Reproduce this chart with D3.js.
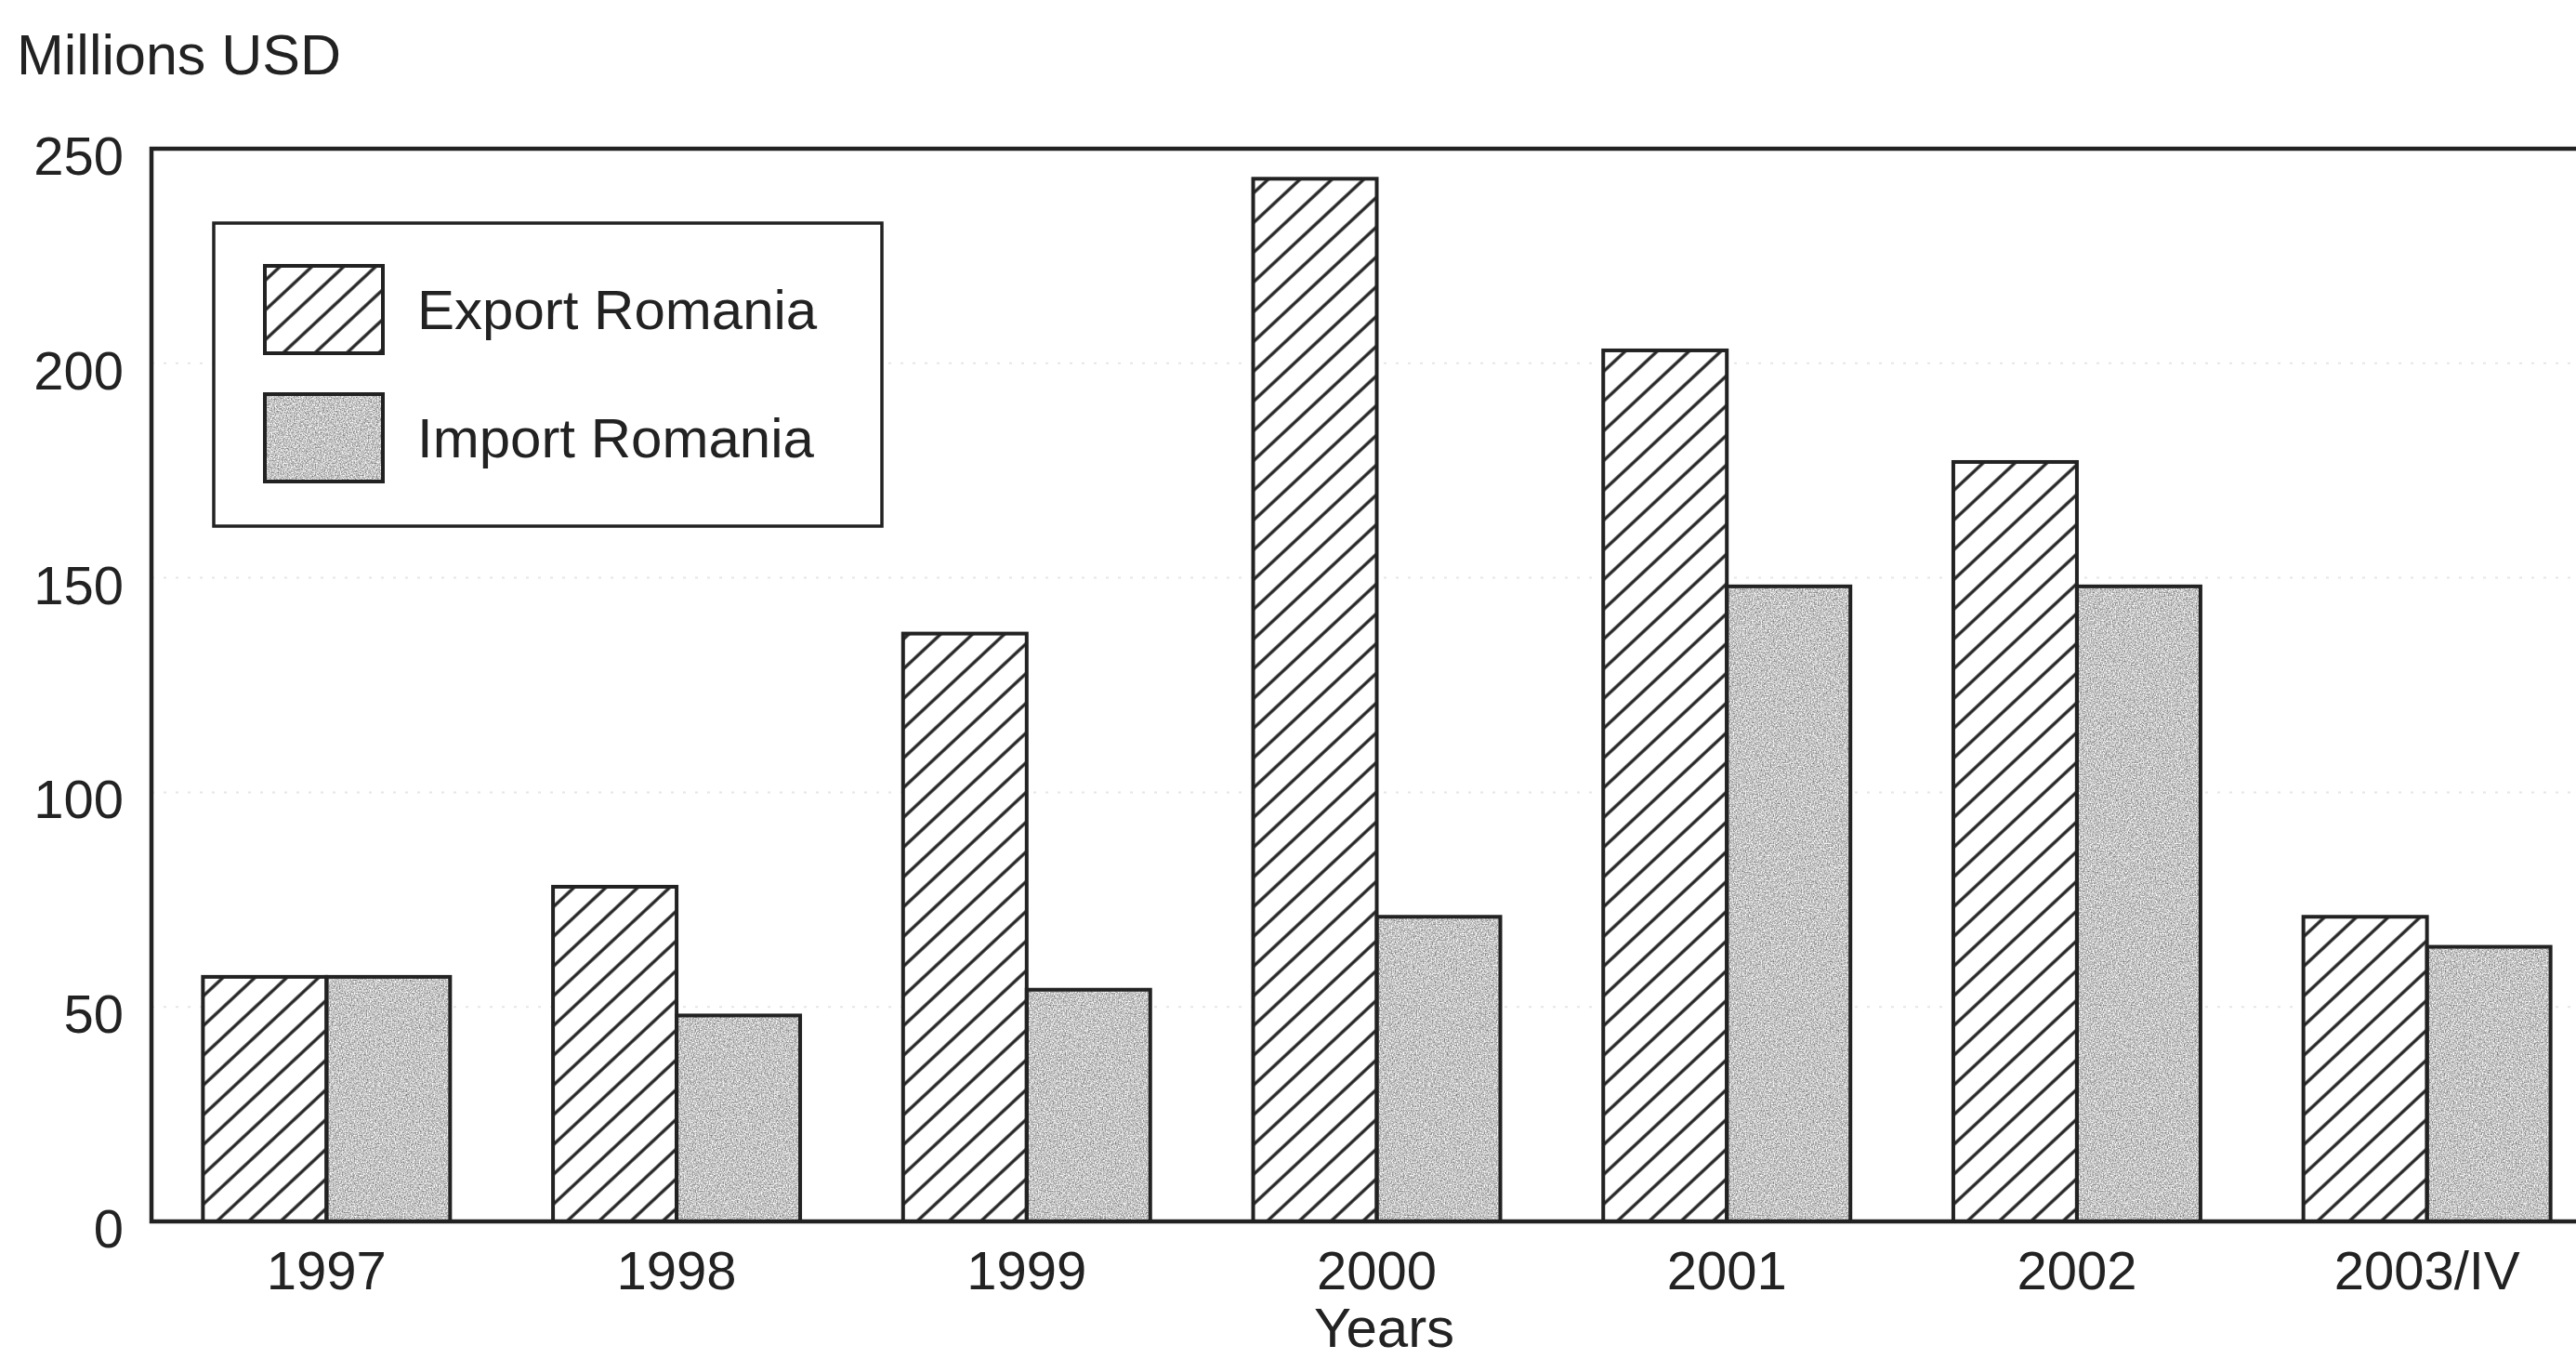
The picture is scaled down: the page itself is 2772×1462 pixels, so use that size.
<!DOCTYPE html>
<html>
<head>
<meta charset="utf-8">
<script src="https://cdn.jsdelivr.net/npm/d3@7"></script>
<style>
  html, body { margin: 0; padding: 0; background: #fff; }
  svg { display: block; }
  text { font-family: "Liberation Sans", Arial, Helvetica, sans-serif; fill: #222; }
</style>
</head>
<body>
<svg id="chart" width="2772" height="1462"></svg>
<script>
// ---- data ----
const categories = ["1997", "1998", "1999", "2000", "2001", "2002", "2003/IV"];
const exportValues = [57, 78, 137, 243, 203, 177, 71];
const importValues = [57, 48, 54, 71, 148, 148, 64];
const seriesNames = ["Export Romania", "Import Romania"];
const yTicks = [0, 50, 100, 150, 200, 250];
const yTitle = "Millions USD";
const xTitle = "Years";

const W = 2772, H = 1462;
const plot = { left: 163, right: 2800, top: 160, bottom: 1314 };
const ink = "#222";

const svg = d3.select("#chart");
const defs = svg.append("defs");

// diagonal hatch pattern (lines rising to the right, ~43 degrees)
const hatchStep = 23.4;
const hatch = defs.append("pattern")
  .attr("id", "hatch")
  .attr("patternUnits", "userSpaceOnUse")
  .attr("width", hatchStep).attr("height", 20)
  .attr("patternTransform", "rotate(47)");
hatch.append("rect").attr("width", hatchStep).attr("height", 20).attr("fill", "#fff");
hatch.append("line")
  .attr("x1", hatchStep / 2).attr("y1", -2).attr("x2", hatchStep / 2).attr("y2", 22)
  .attr("stroke", ink).attr("stroke-width", 3.3);

// grainy gray for imports
const grain = defs.append("filter").attr("id", "grain")
  .attr("x", 0).attr("y", 0).attr("width", "100%").attr("height", "100%")
  .attr("color-interpolation-filters", "sRGB");
grain.append("feTurbulence").attr("type", "fractalNoise")
  .attr("baseFrequency", "0.7").attr("numOctaves", 2).attr("seed", 3).attr("result", "noise");
grain.append("feColorMatrix").attr("in", "noise").attr("type", "matrix")
  .attr("values", "0.9 0 0 0 0.32  0.9 0 0 0 0.32  0.9 0 0 0 0.32  0 0 0 0 1")
  .attr("result", "gray");
grain.append("feComposite").attr("in", "gray").attr("in2", "SourceGraphic").attr("operator", "in");

// ---- scales ----
const x0 = d3.scaleBand().domain(categories)
  .range([plot.left, plot.right]).paddingInner(0.294).paddingOuter(0.147);
const x1 = d3.scaleBand().domain(seriesNames).range([0, x0.bandwidth()]).padding(0);
const y = d3.scaleLinear().domain([0, 250]).range([plot.bottom, plot.top]);

// faint scan grid
svg.append("g").selectAll("line").data(yTicks.filter(t => t > 0 && t < 250)).join("line")
  .attr("x1", plot.left).attr("x2", W)
  .attr("y1", d => y(d)).attr("y2", d => y(d))
  .attr("stroke", "#e6e6e6").attr("stroke-width", 2).attr("stroke-dasharray", "3,10");

// ---- bars ----
const rows = categories.map((c, i) => ({ cat: c, vals: [
  { s: seriesNames[0], v: exportValues[i] },
  { s: seriesNames[1], v: importValues[i] }
]}));

const groups = svg.append("g").selectAll("g").data(rows).join("g")
  .attr("transform", d => `translate(${x0(d.cat)},0)`);

groups.selectAll("rect.fill").data(d => d.vals).join("rect")
  .attr("class", "fill")
  .attr("x", d => x1(d.s)).attr("width", x1.bandwidth())
  .attr("y", d => y(d.v)).attr("height", d => y(0) - y(d.v))
  .attr("fill", d => d.s === seriesNames[0] ? "url(#hatch)" : "#c4c4c4")
  .attr("filter", d => d.s === seriesNames[0] ? null : "url(#grain)");

groups.selectAll("rect.edge").data(d => d.vals).join("rect")
  .attr("class", "edge")
  .attr("x", d => x1(d.s)).attr("width", x1.bandwidth())
  .attr("y", d => y(d.v)).attr("height", d => y(0) - y(d.v))
  .attr("fill", "none").attr("stroke", ink).attr("stroke-width", 4);

// ---- frame ----
svg.append("path")
  .attr("d", `M${W + 10},${y(250)} H${plot.left} V${y(0)} H${W + 10}`)
  .attr("fill", "none").attr("stroke", ink).attr("stroke-width", 4.5);

// ---- axes ----
const yAxis = svg.append("g").attr("transform", `translate(${plot.left},0)`)
  .call(d3.axisLeft(y).tickValues(yTicks).tickSize(0).tickPadding(30));
yAxis.select(".domain").remove();
yAxis.selectAll("text").attr("font-size", 58).attr("fill", "#222")
  .attr("font-family", "Liberation Sans, Arial, sans-serif")
  .attr("transform", "translate(0,9)");

const xAxis = svg.append("g").attr("transform", `translate(0,${plot.bottom})`)
  .call(d3.axisBottom(x0).tickSize(0).tickPadding(32));
xAxis.select(".domain").remove();
xAxis.selectAll("text").attr("font-size", 58).attr("fill", "#222")
  .attr("font-family", "Liberation Sans, Arial, sans-serif");

svg.append("text").attr("x", 18).attr("y", 80)
  .attr("font-size", 61).text(yTitle);
svg.append("text").attr("x", (plot.left + plot.right) / 2 + 8).attr("y", 1449)
  .attr("text-anchor", "middle").attr("font-size", 60).text(xTitle);

// ---- legend ----
const lg = svg.append("g");
lg.append("rect").attr("x", 230).attr("y", 240).attr("width", 719).attr("height", 326)
  .attr("fill", "#fff").attr("stroke", ink).attr("stroke-width", 3.5);
const items = lg.selectAll("g").data(seriesNames).join("g")
  .attr("transform", (d, i) => `translate(285,${286 + i * 138})`);
items.append("rect").attr("width", 127).attr("height", 94)
  .attr("fill", (d, i) => i === 0 ? "url(#hatch)" : "#c4c4c4")
  .attr("filter", (d, i) => i === 0 ? null : "url(#grain)");
items.append("rect").attr("width", 127).attr("height", 94)
  .attr("fill", "none").attr("stroke", ink).attr("stroke-width", 4);
items.append("text").attr("x", 164).attr("y", 68)
  .attr("font-size", 60).text(d => d);
</script>
</body>
</html>
